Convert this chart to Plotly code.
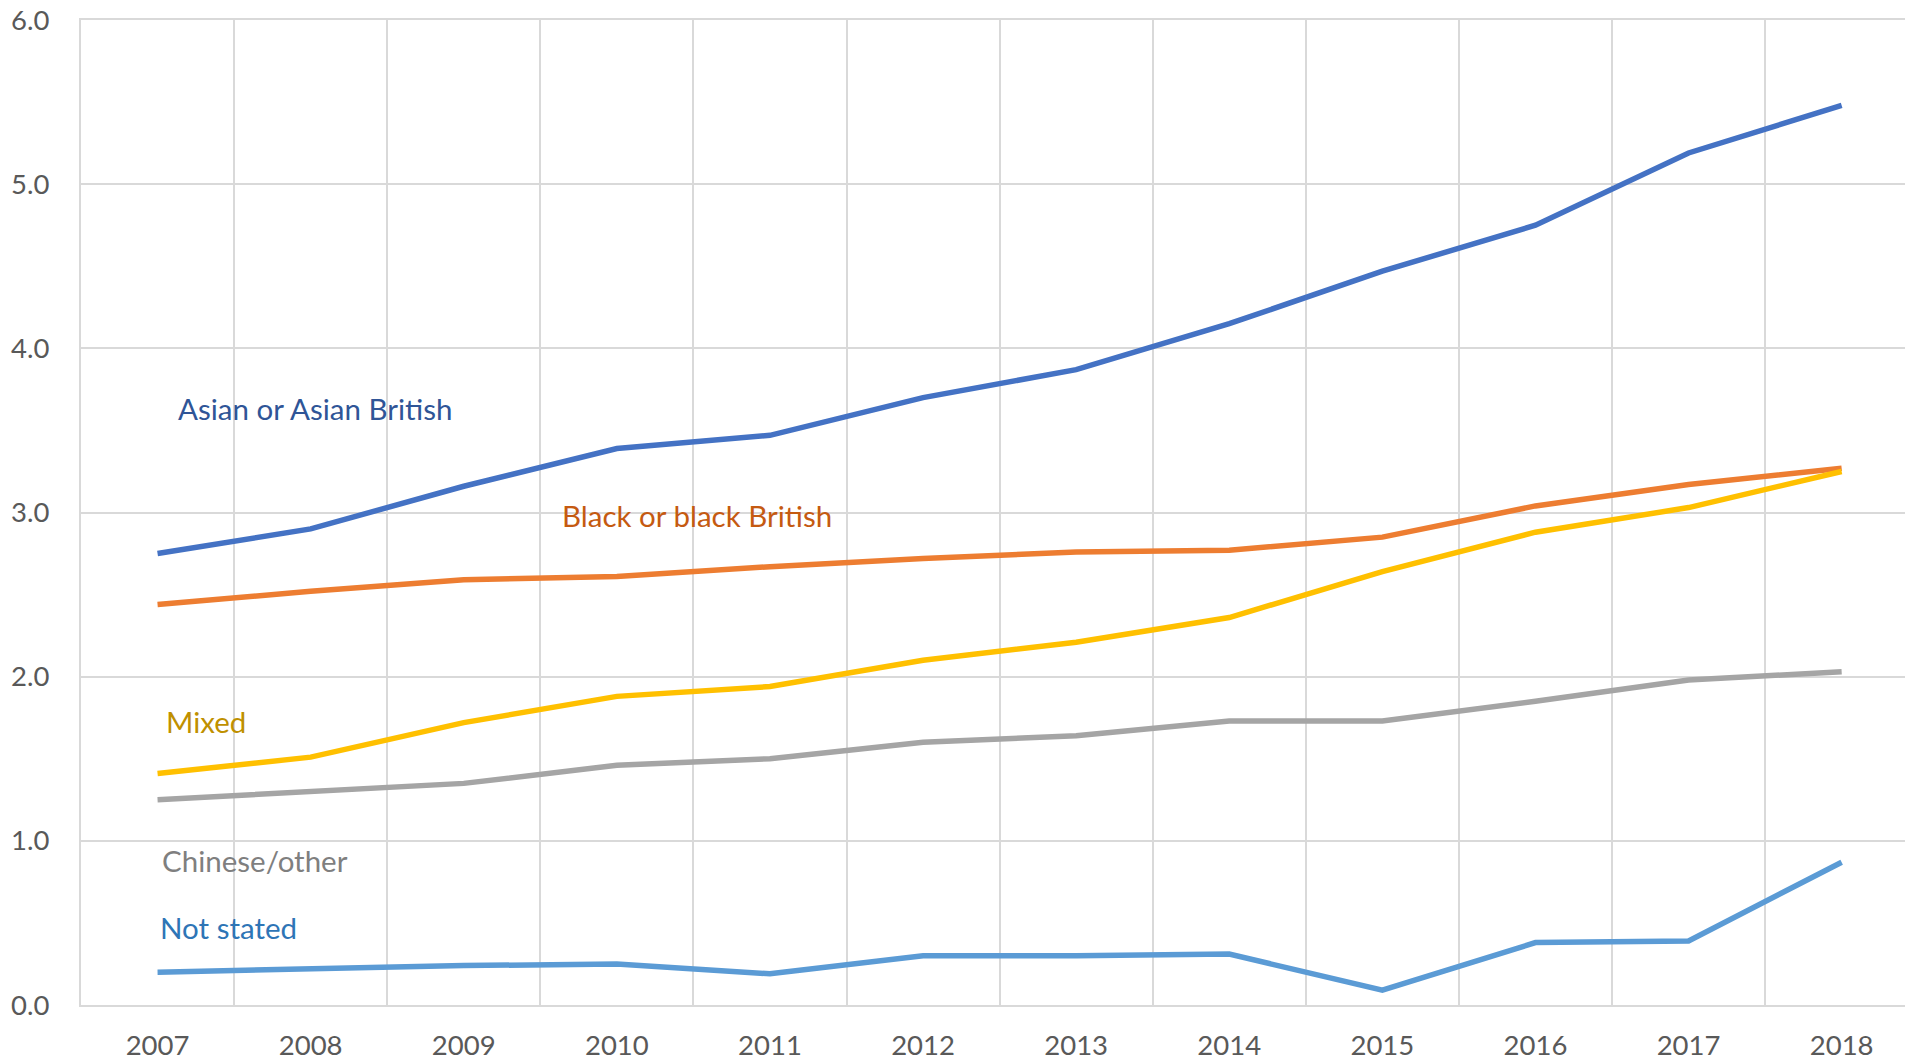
import plotly.graph_objects as go

years = ["2007", "2008", "2009", "2010", "2011", "2012", "2013", "2014", "2015", "2016", "2017", "2018"]

asian = [2.75, 2.90, 3.16, 3.39, 3.47, 3.70, 3.87, 4.15, 4.47, 4.75, 5.19, 5.48]
black = [2.44, 2.52, 2.59, 2.61, 2.67, 2.72, 2.76, 2.77, 2.85, 3.04, 3.17, 3.27]
mixed = [1.41, 1.51, 1.72, 1.88, 1.94, 2.10, 2.21, 2.36, 2.64, 2.88, 3.03, 3.25]
chinese_other = [1.25, 1.30, 1.35, 1.46, 1.50, 1.60, 1.64, 1.73, 1.73, 1.85, 1.98, 2.03]
not_stated = [0.20, 0.22, 0.24, 0.25, 0.19, 0.30, 0.30, 0.31, 0.09, 0.38, 0.39, 0.87]

y_ticks = [0, 1, 2, 3, 4, 5, 6]
y_tick_text = ["0.0", "1.0", "2.0", "3.0", "4.0", "5.0", "6.0"]

series = [
    ("Asian or Asian British", asian, "#4472C4", "#2F5597"),
    ("Black or black British", black, "#ED7D31", "#C55A11"),
    ("Mixed", mixed, "#FFC000", "#BF9000"),
    ("Chinese/other", chinese_other, "#A5A5A5", "#7F7F7F"),
    ("Not stated", not_stated, "#5B9BD5", "#2E75B6"),
]

W, H = 1905, 1062
L, T, B = 81, 20, 57
PW = W - L
PH = H - T - B
CAT_W = 153.1
FONT = "Lato"
GRID = "#D9D9D9"

def px(x):
    return (x - L) / PW

def py(y):
    return (H - B - y) / PH

fig = go.Figure()
for name, vals, color, _ in series:
    fig.add_trace(go.Scatter(x=years, y=vals, mode="lines", name=name,
                             line=dict(color=color, width=5.5), showlegend=False))

# label positions in pixels: (text left, text middle, box x0, box x1, box y0, box y1)
label_pos = {
    "Asian or Asian British": (177, 408, 160, 485, 379, 442),
    "Black or black British": (561, 515, 545, 863, 483, 547),
    "Mixed": (165, 721, 148, 265, 690, 749),
    "Chinese/other": (161, 860, 143, 392, 828, 873),
    "Not stated": (159, 927, 143, 392, 898, 940),
}

for name, vals, color, tcolor in series:
    tx, ty, bx0, bx1, by0, by1 = label_pos[name]
    fig.add_shape(type="rect", xref="paper", yref="paper",
                  x0=px(bx0), x1=px(bx1), y0=py(by1), y1=py(by0),
                  fillcolor="white", line=dict(width=0), layer="between")
    fig.add_annotation(xref="paper", yref="paper", x=px(tx), y=py(ty),
                       xanchor="left", yanchor="middle", text=name, showarrow=False,
                       font=dict(family=FONT, size=29.5, color=tcolor), borderpad=0)

fig.update_layout(
    width=W, height=H,
    margin=dict(l=L, r=0, t=T, b=B, pad=0, autoexpand=False),
    paper_bgcolor="white", plot_bgcolor="white",
    font=dict(family=FONT, size=27, color="#595959"),
    xaxis=dict(type="category", range=[-0.5, -0.5 + PW / CAT_W], tickson="boundaries",
               showgrid=True, gridcolor=GRID, gridwidth=2, ticks="", automargin=False,
               showline=True, linecolor=GRID, linewidth=2, mirror=True,
               ticklabelstandoff=15, tickfont=dict(family=FONT, size=27.5, color="#595959")),
    yaxis=dict(range=[0, 6], tickvals=y_ticks, ticktext=y_tick_text, automargin=False,
               showgrid=True, gridcolor=GRID, gridwidth=2, ticks="", zeroline=False,
               showline=True, linecolor=GRID, linewidth=2,
               ticklabelstandoff=24, tickfont=dict(family=FONT, size=27.5, color="#595959")),
)

fig.write_html("out.html", config={"displayModeBar": False},
               post_script="document.body.style.margin='0';document.body.style.overflow='hidden';")
